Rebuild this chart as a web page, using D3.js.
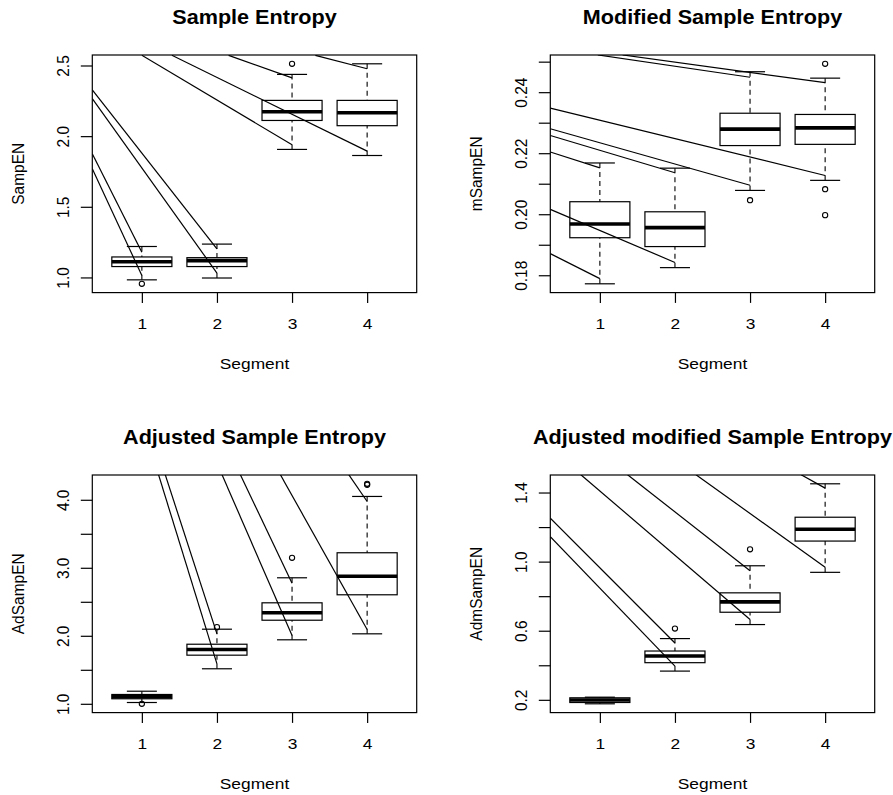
<!DOCTYPE html>
<html>
<head>
<meta charset="utf-8">
<title>Sample entropy by segment</title>
<style>
body { margin: 0; background: #fff; }
svg text { font-family: "Liberation Sans", Arial, sans-serif; fill: #000; }
</style>
</head>
<body>
<script src="https://d3js.org/d3.v7.min.js"></script>
<script>

var segments = [1, 2, 3, 4];

// per segment: [lower whisker, Q1, median, Q3, upper whisker]
var sampEN = [
  [0.983, 1.077, 1.111, 1.145, 1.219],
  [0.996, 1.077, 1.119, 1.140, 1.236],
  [1.906, 2.111, 2.173, 2.253, 2.437],
  [1.863, 2.074, 2.166, 2.253, 2.512]
];
var sampENOut = [[1, 0.955], [3, 2.512]];
// stray segments drawn over the plot: [x0, y0, x1, y1]
var sampENStrokes = [
  [0.34, 1.875, 1, 1.179],
  [0.34, 1.769, 1, 1.014],
  [0.34, 2.328, 2, 1.203],
  [0.34, 2.265, 2, 1.031],
  [1.0, 2.572, 3, 1.939],
  [1.4, 2.572, 4, 1.894],
  [2.155, 2.572, 3, 2.412],
  [3.31, 2.572, 4, 2.477]
];
var sampENTicks = [1.0, 1.5, 2.0, 2.5];
var sampENLabels = [1.0, 1.5, 2.0, 2.5];

var mSampEN = [
  [0.1772, 0.1923, 0.1968, 0.2041, 0.2168],
  [0.1825, 0.1894, 0.1956, 0.2008, 0.2151],
  [0.2078, 0.2225, 0.2279, 0.2331, 0.2467],
  [0.2111, 0.2229, 0.2283, 0.2327, 0.2446]
];
var mSampENOut = [[3, 0.2046], [4, 0.2493], [4, 0.2082], [4, 0.1997]];
var mSampENStrokes = [
  [0.34, 0.2204, 1, 0.2152],
  [0.34, 0.1871, 1, 0.1789],
  [0.34, 0.2258, 2, 0.2136],
  [0.34, 0.2016, 2, 0.1842],
  [0.34, 0.2280, 3, 0.2095],
  [0.34, 0.2348, 4, 0.2127],
  [0.973, 0.2522, 3, 0.2449],
  [1.303, 0.2522, 4, 0.2431]
];
var mSampENTicks = [0.18, 0.19, 0.20, 0.21, 0.22, 0.23, 0.24, 0.25];
var mSampENLabels = [0.18, 0.20, 0.22, 0.24];

var adSampEN = [
  [1.019, 1.074, 1.103, 1.137, 1.185],
  [1.515, 1.715, 1.799, 1.876, 2.097],
  [1.941, 2.229, 2.338, 2.485, 2.853],
  [2.029, 2.603, 2.876, 3.221, 4.049]
];
var adSampENOut = [[1, 1.0], [2, 2.127], [3, 3.147], [4, 4.22], [4, 4.235]];
var adSampENStrokes = [
  [1.222, 4.37, 2, 1.588],
  [1.311, 4.37, 2, 2.029],
  [2.067, 4.37, 3, 2.004],
  [2.311, 4.37, 3, 2.774],
  [2.844, 4.37, 4, 2.093],
  [3.755, 4.37, 4, 3.975]
];
var adSampENTicks = [1.0, 1.5, 2.0, 2.5, 3.0, 3.5, 4.0];
var adSampENLabels = [1.0, 2.0, 3.0, 4.0];

var admSampEN = [
  [0.177, 0.1845, 0.199, 0.2118, 0.2153],
  [0.3663, 0.415, 0.4535, 0.4825, 0.5545],
  [0.6357, 0.707, 0.767, 0.8193, 0.976],
  [0.938, 1.119, 1.187, 1.257, 1.4505]
];
var admSampENOut = [[2, 0.6125], [3, 1.0713]];
var admSampENStrokes = [
  [0.34, 1.251, 2, 0.529],
  [0.34, 1.144, 2, 0.395],
  [0.747, 1.503, 3, 0.665],
  [1.369, 1.503, 3, 0.947],
  [2.28, 1.503, 4, 0.967],
  [3.68, 1.503, 4, 1.4255]
];
var admSampENTicks = [0.2, 0.4, 0.6, 0.8, 1.0, 1.2, 1.4];
var admSampENLabels = [0.2, 0.6, 1.0, 1.4];

var width = 893, height = 795,
    pw = 324.4, ph = 237.6,
    sx = 1.12; // the picture is a bit wider than tall, text too

var panels = [
  {title: "Sample Entropy", ylab: "SampEN", stats: sampEN, out: sampENOut, strokes: sampENStrokes,
   ticks: sampENTicks, labels: sampENLabels, fmt: d3.format(".1f"), left: 92.3, top: 55},
  {title: "Modified Sample Entropy", ylab: "mSampEN", stats: mSampEN, out: mSampENOut, strokes: mSampENStrokes,
   ticks: mSampENTicks, labels: mSampENLabels, fmt: d3.format(".2f"), left: 550.3, top: 55},
  {title: "Adjusted Sample Entropy", ylab: "AdSampEN", stats: adSampEN, out: adSampENOut, strokes: adSampENStrokes,
   ticks: adSampENTicks, labels: adSampENLabels, fmt: d3.format(".1f"), left: 92.3, top: 475},
  {title: "Adjusted modified Sample Entropy", ylab: "AdmSampEN", stats: admSampEN, out: admSampENOut, strokes: admSampENStrokes,
   ticks: admSampENTicks, labels: admSampENLabels, fmt: d3.format(".1f"), left: 550.3, top: 475}
];

var svg = d3.select("body").append("svg")
    .attr("width", width)
    .attr("height", height)
    .style("display", "block");

svg.append("rect").attr("width", width).attr("height", height).attr("fill", "#fff");

panels.forEach(drawPanel);

function drawPanel(p, i) {
  var g = svg.append("g").attr("transform", "translate(" + p.left + "," + p.top + ")");

  var x = d3.scaleLinear().domain([0.34, 4.66]).range([0, pw]);
  // R-style range: data extent padded by 4%
  var vals = d3.merge(p.stats).concat(p.out.map(function(d) { return d[1]; }));
  var lo = d3.min(vals), hi = d3.max(vals), pad = (hi - lo) * 0.04;
  var y = d3.scaleLinear().domain([lo - pad, hi + pad]).range([ph, 0]);

  g.append("clipPath").attr("id", "clip" + i)
    .append("rect").attr("width", pw).attr("height", ph);

  // stray lines
  g.append("g").attr("clip-path", "url(#clip" + i + ")")
    .selectAll("line").data(p.strokes).enter().append("line")
      .attr("x1", function(d) { return x(d[0]); })
      .attr("y1", function(d) { return y(d[1]); })
      .attr("x2", function(d) { return x(d[2]); })
      .attr("y2", function(d) { return y(d[3]); })
      .attr("stroke", "#000").attr("stroke-width", 1.2);

  var box = g.selectAll(".box").data(p.stats).enter().append("g").attr("class", "box");

  // dashed whiskers
  box.append("line")
      .attr("x1", function(d, j) { return x(segments[j]); })
      .attr("x2", function(d, j) { return x(segments[j]); })
      .attr("y1", function(d) { return y(d[0]); })
      .attr("y2", function(d) { return y(d[1]); })
      .attr("stroke", "#000").attr("stroke-width", 1.1).attr("stroke-dasharray", "5,4");
  box.append("line")
      .attr("x1", function(d, j) { return x(segments[j]); })
      .attr("x2", function(d, j) { return x(segments[j]); })
      .attr("y1", function(d) { return y(d[4]); })
      .attr("y2", function(d) { return y(d[3]); })
      .attr("stroke", "#000").attr("stroke-width", 1.1).attr("stroke-dasharray", "5,4");

  // staples
  [0, 4].forEach(function(k) {
    box.append("line")
        .attr("x1", function(d, j) { return x(segments[j] - 0.2); })
        .attr("x2", function(d, j) { return x(segments[j] + 0.2); })
        .attr("y1", function(d) { return y(d[k]); })
        .attr("y2", function(d) { return y(d[k]); })
        .attr("stroke", "#000").attr("stroke-width", 1.2);
  });

  box.append("rect")
      .attr("x", function(d, j) { return x(segments[j] - 0.4); })
      .attr("width", x(1.4) - x(0.6))
      .attr("y", function(d) { return y(d[3]); })
      .attr("height", function(d) { return y(d[1]) - y(d[3]); })
      .attr("fill", "none").attr("stroke", "#000").attr("stroke-width", 1.2);

  box.append("line")
      .attr("x1", function(d, j) { return x(segments[j] - 0.4); })
      .attr("x2", function(d, j) { return x(segments[j] + 0.4); })
      .attr("y1", function(d) { return y(d[2]); })
      .attr("y2", function(d) { return y(d[2]); })
      .attr("stroke", "#000").attr("stroke-width", 3.6);

  g.selectAll(".out").data(p.out).enter().append("circle")
      .attr("cx", function(d) { return x(d[0]); })
      .attr("cy", function(d) { return y(d[1]); })
      .attr("r", 2.6)
      .attr("fill", "none").attr("stroke", "#000").attr("stroke-width", 1.1);

  g.append("rect").attr("width", pw).attr("height", ph)
      .attr("fill", "none").attr("stroke", "#000").attr("stroke-width", 1.2);

  // axes
  var gx = g.append("g").attr("transform", "translate(0," + ph + ")")
      .call(d3.axisBottom(x).tickValues(segments).tickSize(10.3).tickSizeOuter(0).tickFormat(d3.format("d")));
  var gy = g.append("g")
      .call(d3.axisLeft(y).tickValues(p.ticks).tickSize(11.5).tickSizeOuter(0)
        .tickFormat(function(d) { return p.labels.indexOf(d) >= 0 ? p.fmt(d) : ""; }));

  [gx, gy].forEach(function(a) {
    a.attr("font-family", null).attr("font-size", null);
    a.select(".domain").remove();
    a.selectAll(".tick line").attr("stroke", "#000").attr("stroke-width", 1.2);
    a.selectAll("text").attr("x", 0).attr("y", 0).attr("dy", null).attr("fill", "#000")
      .style("font-size", "15.5px");
  });
  gx.selectAll("text").attr("transform", "translate(0,36.3) scale(" + sx + ",1)");
  gy.selectAll("text").attr("text-anchor", "middle")
      .attr("transform", "translate(-23.8,0) scale(" + sx + ",1) rotate(-90)");

  g.append("text")
      .attr("transform", "translate(" + pw / 2 + ",-30.7) scale(" + sx + ",1)")
      .attr("text-anchor", "middle")
      .style("font-size", "19.3px").style("font-weight", "bold")
      .text(p.title);

  g.append("text")
      .attr("transform", "translate(" + pw / 2 + "," + (ph + 76.3) + ") scale(" + sx + ",1)")
      .attr("text-anchor", "middle")
      .style("font-size", "15.5px")
      .text("Segment");

  g.append("text")
      .attr("transform", "translate(-68," + ph / 2 + ") scale(" + sx + ",1) rotate(-90)")
      .attr("text-anchor", "middle")
      .style("font-size", "15.5px")
      .text(p.ylab);
}

</script>
</body>
</html>
